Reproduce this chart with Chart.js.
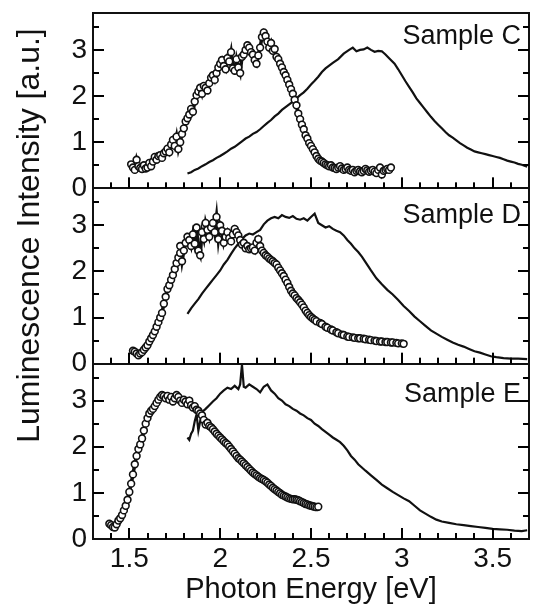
<!DOCTYPE html>
<html><head><meta charset="utf-8">
<script src="https://cdn.jsdelivr.net/npm/chart.js@4.4.1/dist/chart.umd.min.js"></script>
<style>html,body{margin:0;padding:0;background:#fff}#wrap{position:relative;width:536px;height:607px}</style>
</head><body><div id="wrap"><canvas id="c"></canvas></div>
<script>
const xTickValues=[1.5,2,2.5,3,3.5];
const xTickLabels=['1.5','2','2.5','3','3.5'];
const xMinorTicks=[1.4,1.5,1.6,1.7,1.8,1.9,2,2.1,2.2,2.3,2.4,2.5,2.6,2.7,2.8,2.9,3,3.1,3.2,3.3,3.4,3.5,3.6];
const yTickValues=[0,1,2,3];
const yTickLabels=['0','1','2','3'];
const yMinorTicks=[0.5,1,1.5,2,2.5,3,3.5];
const panelNames=['Sample C','Sample D','Sample E'];

const sampleC_circles=[[1.51,0.52],[1.52,0.45],[1.53,0.40],[1.54,0.62],[1.55,0.48],[1.56,0.44],[1.57,0.42],[1.58,0.50],[1.59,0.43],[1.60,0.45],[1.61,0.55],[1.62,0.48],[1.63,0.58],[1.64,0.68],[1.65,0.62],[1.66,0.70],[1.67,0.72],[1.68,0.66],[1.69,0.76],[1.70,0.80],[1.71,0.86],[1.72,0.78],[1.73,0.95],[1.74,1.05],[1.75,0.92],[1.76,1.12],[1.77,0.85],[1.78,1.00],[1.79,1.18],[1.80,1.30],[1.81,1.45],[1.82,1.52],[1.83,1.60],[1.84,1.72],[1.85,1.66],[1.86,1.88],[1.87,2.02],[1.88,2.10],[1.89,2.18],[1.90,2.05],[1.91,2.22],[1.92,2.18],[1.93,2.12],[1.94,2.28],[1.95,2.40],[1.96,2.45],[1.97,2.35],[1.98,2.50],[1.99,2.62],[2.00,2.70],[2.01,2.78],[2.02,2.65],[2.03,2.58],[2.04,2.82],[2.05,2.75],[2.06,2.95],[2.07,2.60],[2.08,2.55],[2.09,2.80],[2.10,2.62],[2.11,2.50],[2.12,2.85],[2.13,2.90],[2.14,3.00],[2.15,3.10],[2.16,3.05],[2.17,2.95],[2.18,2.90],[2.19,2.78],[2.20,2.70],[2.21,2.88],[2.22,3.05],[2.23,3.28],[2.24,3.38],[2.25,3.30],[2.26,3.18],[2.27,3.05],[2.28,3.15],[2.29,2.98],[2.30,3.02],[2.31,2.85],[2.32,2.80],[2.33,2.70],[2.34,2.62],[2.35,2.52],[2.36,2.45],[2.37,2.35],[2.38,2.25],[2.39,2.15],[2.40,2.05],[2.41,1.92],[2.42,1.80],[2.43,1.62],[2.44,1.50],[2.45,1.38],[2.46,1.28],[2.47,1.15],[2.48,1.08],[2.49,0.98],[2.50,0.92],[2.51,0.85],[2.52,0.78],[2.53,0.70],[2.54,0.64],[2.55,0.60],[2.56,0.58],[2.57,0.55],[2.58,0.52],[2.59,0.50],[2.60,0.48],[2.61,0.50],[2.62,0.45],[2.63,0.44],[2.64,0.42],[2.65,0.45],[2.66,0.48],[2.67,0.43],[2.68,0.40],[2.69,0.42],[2.70,0.45],[2.71,0.40],[2.72,0.38],[2.73,0.40],[2.74,0.35],[2.75,0.38],[2.76,0.40],[2.77,0.37],[2.78,0.35],[2.79,0.38],[2.80,0.42],[2.81,0.39],[2.82,0.36],[2.83,0.38],[2.84,0.40],[2.85,0.36],[2.86,0.33],[2.87,0.40],[2.88,0.45],[2.89,0.30],[2.90,0.38],[2.91,0.40],[2.92,0.42],[2.93,0.40],[2.94,0.45]];
const sampleC_trace=[[1.82,0.32],[1.84,0.35],[1.86,0.40],[1.88,0.43],[1.90,0.48],[1.92,0.52],[1.94,0.57],[1.96,0.61],[1.98,0.66],[2.00,0.70],[2.02,0.75],[2.04,0.80],[2.06,0.86],[2.08,0.90],[2.10,0.96],[2.12,1.02],[2.14,1.08],[2.16,1.12],[2.18,1.18],[2.20,1.22],[2.22,1.28],[2.24,1.35],[2.26,1.42],[2.28,1.48],[2.30,1.56],[2.32,1.62],[2.34,1.70],[2.36,1.76],[2.38,1.82],[2.40,1.88],[2.42,1.95],[2.44,2.02],[2.46,2.08],[2.48,2.16],[2.50,2.25],[2.52,2.33],[2.54,2.42],[2.56,2.52],[2.58,2.60],[2.60,2.66],[2.62,2.72],[2.65,2.80],[2.68,2.92],[2.71,3.00],[2.73,3.05],[2.75,2.97],[2.77,3.00],[2.79,3.01],[2.81,3.05],[2.83,3.00],[2.85,2.96],[2.87,2.98],[2.89,2.97],[2.91,2.90],[2.93,2.82],[2.96,2.70],[2.98,2.58],[3.00,2.45],[3.02,2.32],[3.04,2.20],[3.06,2.08],[3.08,1.95],[3.10,1.85],[3.12,1.75],[3.14,1.65],[3.16,1.55],[3.18,1.46],[3.20,1.38],[3.22,1.30],[3.24,1.22],[3.26,1.15],[3.28,1.10],[3.30,1.04],[3.32,0.98],[3.34,0.93],[3.36,0.88],[3.38,0.84],[3.40,0.80],[3.42,0.78],[3.44,0.76],[3.46,0.74],[3.48,0.72],[3.50,0.70],[3.52,0.68],[3.54,0.66],[3.56,0.63],[3.58,0.60],[3.60,0.58],[3.62,0.56],[3.64,0.53],[3.66,0.51],[3.69,0.47]];

const sampleD_circles=[[1.52,0.28],[1.53,0.26],[1.54,0.22],[1.55,0.18],[1.56,0.22],[1.57,0.25],[1.58,0.30],[1.59,0.35],[1.60,0.40],[1.61,0.48],[1.62,0.55],[1.63,0.62],[1.64,0.70],[1.65,0.80],[1.66,0.90],[1.67,1.00],[1.68,1.10],[1.69,1.30],[1.70,1.45],[1.71,1.62],[1.72,1.70],[1.73,1.82],[1.74,1.92],[1.75,2.05],[1.76,2.18],[1.77,2.30],[1.78,2.40],[1.78,2.55],[1.79,2.22],[1.80,2.45],[1.81,2.62],[1.82,2.75],[1.83,2.68],[1.84,2.55],[1.85,2.80],[1.86,2.60],[1.87,2.95],[1.88,2.45],[1.89,2.35],[1.90,2.85],[1.91,2.70],[1.92,3.05],[1.93,2.90],[1.94,2.75],[1.95,2.95],[1.96,3.05],[1.97,2.85],[1.98,3.18],[1.99,2.70],[2.00,3.00],[2.01,2.88],[2.02,2.62],[2.03,2.75],[2.04,2.85],[2.05,2.72],[2.06,2.65],[2.07,2.80],[2.08,2.92],[2.09,2.85],[2.10,2.78],[2.11,2.68],[2.12,2.58],[2.13,2.62],[2.14,2.50],[2.15,2.55],[2.16,2.48],[2.17,2.50],[2.18,2.52],[2.19,2.45],[2.20,2.62],[2.21,2.70],[2.22,2.55],[2.23,2.45],[2.24,2.40],[2.25,2.35],[2.26,2.32],[2.27,2.28],[2.28,2.25],[2.29,2.22],[2.30,2.18],[2.31,2.15],[2.32,2.08],[2.33,2.02],[2.34,1.96],[2.35,1.90],[2.36,1.82],[2.37,1.75],[2.38,1.66],[2.39,1.58],[2.40,1.52],[2.41,1.48],[2.42,1.42],[2.43,1.38],[2.44,1.33],[2.45,1.28],[2.46,1.22],[2.47,1.15],[2.48,1.10],[2.49,1.05],[2.50,1.01],[2.51,0.98],[2.52,0.95],[2.53,0.92],[2.55,0.88],[2.56,0.86],[2.58,0.80],[2.59,0.78],[2.61,0.74],[2.62,0.72],[2.64,0.68],[2.65,0.66],[2.67,0.63],[2.68,0.62],[2.70,0.59],[2.71,0.58],[2.73,0.57],[2.74,0.56],[2.76,0.55],[2.77,0.55],[2.79,0.54],[2.80,0.53],[2.82,0.52],[2.83,0.51],[2.85,0.50],[2.86,0.49],[2.88,0.48],[2.89,0.48],[2.91,0.47],[2.92,0.47],[2.94,0.46],[2.95,0.46],[2.97,0.45],[2.98,0.44],[3.00,0.44],[3.01,0.43]];
const sampleD_trace=[[1.82,1.08],[1.84,1.20],[1.86,1.30],[1.88,1.40],[1.90,1.52],[1.92,1.62],[1.94,1.72],[1.96,1.82],[1.98,1.92],[2.00,2.02],[2.02,2.15],[2.04,2.25],[2.06,2.38],[2.08,2.50],[2.10,2.60],[2.12,2.70],[2.14,2.78],[2.16,2.82],[2.18,2.80],[2.20,2.85],[2.22,2.90],[2.24,3.02],[2.26,3.10],[2.28,3.15],[2.30,3.18],[2.32,3.15],[2.34,3.22],[2.36,3.18],[2.38,3.16],[2.40,3.20],[2.42,3.14],[2.44,3.12],[2.46,3.15],[2.48,3.10],[2.50,3.18],[2.52,3.25],[2.54,3.05],[2.56,3.00],[2.58,2.95],[2.60,2.98],[2.62,2.92],[2.64,2.88],[2.66,2.85],[2.68,2.78],[2.70,2.68],[2.72,2.60],[2.74,2.50],[2.76,2.42],[2.78,2.32],[2.80,2.20],[2.83,2.02],[2.86,1.85],[2.89,1.72],[2.92,1.60],[2.95,1.50],[2.98,1.38],[3.01,1.25],[3.04,1.14],[3.07,1.02],[3.10,0.92],[3.13,0.82],[3.16,0.72],[3.19,0.65],[3.22,0.58],[3.25,0.52],[3.28,0.46],[3.31,0.41],[3.34,0.37],[3.37,0.32],[3.40,0.27],[3.43,0.24],[3.46,0.20],[3.49,0.16],[3.52,0.14],[3.56,0.12],[3.60,0.11],[3.64,0.11],[3.69,0.10]];

const sampleE_circles=[[1.39,0.33],[1.40,0.30],[1.41,0.26],[1.42,0.25],[1.43,0.32],[1.44,0.40],[1.45,0.45],[1.46,0.52],[1.47,0.62],[1.48,0.72],[1.49,0.85],[1.50,1.02],[1.51,1.20],[1.52,1.40],[1.53,1.62],[1.54,1.80],[1.55,1.95],[1.56,2.05],[1.57,2.18],[1.58,2.35],[1.59,2.50],[1.60,2.62],[1.61,2.72],[1.62,2.78],[1.63,2.82],[1.64,2.88],[1.65,2.95],[1.66,3.02],[1.67,3.08],[1.68,3.12],[1.69,3.10],[1.70,3.05],[1.71,3.10],[1.72,3.02],[1.73,3.08],[1.74,2.98],[1.75,3.05],[1.76,3.12],[1.77,3.08],[1.78,3.00],[1.79,2.95],[1.80,3.02],[1.81,2.98],[1.82,2.92],[1.83,3.00],[1.84,2.90],[1.85,2.85],[1.86,2.88],[1.87,2.80],[1.88,2.78],[1.89,2.72],[1.90,2.68],[1.91,2.58],[1.92,2.48],[1.93,2.52],[1.94,2.45],[1.95,2.42],[1.96,2.38],[1.97,2.33],[1.98,2.28],[1.99,2.24],[2.00,2.20],[2.01,2.16],[2.02,2.12],[2.03,2.08],[2.04,2.05],[2.05,2.00],[2.06,1.95],[2.07,1.90],[2.08,1.85],[2.09,1.80],[2.10,1.75],[2.11,1.72],[2.12,1.68],[2.13,1.64],[2.14,1.60],[2.15,1.56],[2.16,1.52],[2.17,1.48],[2.18,1.44],[2.19,1.41],[2.20,1.38],[2.21,1.35],[2.22,1.32],[2.23,1.30],[2.24,1.28],[2.25,1.25],[2.26,1.22],[2.27,1.18],[2.28,1.15],[2.29,1.11],[2.30,1.08],[2.31,1.05],[2.32,1.02],[2.33,0.99],[2.34,0.96],[2.35,0.94],[2.36,0.92],[2.37,0.90],[2.38,0.88],[2.39,0.87],[2.40,0.86],[2.41,0.86],[2.42,0.85],[2.43,0.84],[2.44,0.82],[2.45,0.80],[2.46,0.78],[2.47,0.76],[2.48,0.75],[2.49,0.73],[2.50,0.72],[2.51,0.71],[2.52,0.70],[2.53,0.69],[2.54,0.70]];
const sampleE_trace=[[1.82,2.20],[1.83,2.15],[1.84,2.28],[1.85,2.35],[1.86,2.55],[1.87,2.70],[1.88,2.35],[1.89,2.55],[1.90,2.75],[1.92,2.82],[1.94,2.90],[1.96,2.98],[1.98,3.05],[2.00,3.15],[2.02,3.22],[2.04,3.28],[2.06,3.25],[2.08,3.32],[2.10,3.25],[2.11,3.35],[2.12,3.78],[2.13,3.30],[2.14,3.28],[2.16,3.35],[2.18,3.30],[2.20,3.25],[2.22,3.18],[2.24,3.30],[2.26,3.35],[2.28,3.22],[2.30,3.15],[2.32,3.05],[2.34,3.00],[2.36,2.92],[2.38,2.88],[2.40,2.82],[2.42,2.78],[2.44,2.72],[2.46,2.68],[2.48,2.62],[2.50,2.58],[2.52,2.50],[2.54,2.45],[2.56,2.38],[2.58,2.32],[2.60,2.26],[2.62,2.20],[2.64,2.15],[2.66,2.10],[2.68,2.02],[2.70,1.92],[2.72,1.80],[2.74,1.72],[2.76,1.62],[2.78,1.55],[2.80,1.48],[2.83,1.38],[2.86,1.28],[2.89,1.18],[2.92,1.10],[2.95,1.02],[2.98,0.95],[3.01,0.88],[3.04,0.82],[3.07,0.72],[3.10,0.62],[3.13,0.55],[3.16,0.48],[3.19,0.42],[3.22,0.38],[3.26,0.35],[3.30,0.32],[3.34,0.30],[3.38,0.28],[3.42,0.26],[3.46,0.24],[3.50,0.22],[3.54,0.21],[3.58,0.20],[3.62,0.18],[3.66,0.17],[3.69,0.19]];

const INK='#111';
const FONT="'Liberation Sans', Arial, Helvetica, sans-serif";
const CLEAR='rgba(0,0,0,0)';
const FRAME=2;

function fixSize(w,h){return s=>{if(w!=null)s.width=w;if(h!=null)s.height=h;s.paddingTop=0;s.paddingBottom=0;s.paddingLeft=0;s.paddingRight=0;};}
function setTicks(vals){return s=>{s.ticks=vals.map(v=>({value:v}));};}

function yAxis(weight,sep){
  return {type:'linear',position:'left',stack:'panels',stackWeight:1,weight:weight,min:0,max:3.8,
    afterBuildTicks:setTicks(yTickValues),
    afterFit:fixSize(93,null),
    ticks:{autoSkip:false,padding:6,color:INK,font:{family:FONT,size:28,lineHeight:1},callback:(v,i)=>yTickLabels[i]},
    grid:{drawTicks:false,drawOnChartArea:true,lineWidth:FRAME,color:c=>(sep&&c.tick&&c.tick.value===0)?INK:CLEAR},
    border:{display:true,color:INK,width:FRAME}};
}
function pts(a){return a.map(p=>({x:p[0],y:p[1]}));}
function circles(a,yid){return {data:pts(a),xAxisID:'x',yAxisID:yid,showLine:true,borderColor:INK,borderWidth:3.5,pointRadius:3.4,pointBorderWidth:1.6,pointBackgroundColor:'#fff',pointBorderColor:INK,tension:0};}
function trace(a,yid){return {data:pts(a),xAxisID:'x',yAxisID:yid,showLine:true,borderColor:INK,borderWidth:2.2,pointRadius:0,tension:0};}

const labelAnchor=[3.12,3.04,2.98];
const frameTicks={id:'frameTicks',afterDraw(chart){
  const ctx=chart.ctx,a=chart.chartArea,xs=chart.scales.x;
  ctx.save();
  ctx.fillStyle='#000';
  ['yC','yD','yE'].forEach(id=>{
    const ys=chart.scales[id];const base=ys.getPixelForValue(0);
    xMinorTicks.forEach(v=>{const px=Math.round(xs.getPixelForValue(v));const len=xTickValues.includes(v)?11:6;ctx.fillRect(px-1,base-len,2,len);});
    yMinorTicks.forEach(v=>{const py=Math.round(ys.getPixelForValue(v));const len=yTickValues.includes(v)?11:6;ctx.fillRect(a.left,py-1,len,2);ctx.fillRect(a.right-len,py-1,len,2);});
  });
  ctx.restore();
}};
const decor={id:'decor',afterDraw(chart){
  const ctx=chart.ctx,a=chart.chartArea;
  ctx.save();
  ctx.fillStyle=INK;
  ['yC','yD','yE'].forEach((id,k)=>{
    const ys=chart.scales[id];
    ctx.font='27px '+FONT;ctx.textAlign='right';ctx.textBaseline='alphabetic';
    ctx.fillText(panelNames[k],a.right-8,ys.getPixelForValue(labelAnchor[k]));
  });
  ctx.translate(30.5,a.top+0.423*(a.bottom-a.top));ctx.rotate(-Math.PI/2);
  ctx.font='32px '+FONT;ctx.textAlign='center';ctx.textBaseline='middle';
  ctx.fillText('Luminescence Intensity [a.u.]',0,0);
  ctx.restore();
}};

new Chart(document.getElementById('c'),{
  type:'line',
  data:{datasets:[
    circles(sampleC_circles,'yC'),trace(sampleC_trace,'yC'),
    circles(sampleD_circles,'yD'),trace(sampleD_trace,'yD'),
    circles(sampleE_circles,'yE'),trace(sampleE_trace,'yE')]},
  options:{responsive:true,maintainAspectRatio:false,animation:false,
    layout:{padding:0,autoPadding:false},
    plugins:{legend:{display:false},tooltip:{enabled:false}},
    scales:{
      x:{type:'linear',position:'bottom',min:1.3,max:3.7,
        afterBuildTicks:setTicks(xTickValues),
        afterFit:fixSize(null,68),
        ticks:{autoSkip:false,maxRotation:0,padding:3,color:INK,font:{family:FONT,size:28,lineHeight:1.2},callback:(v,i)=>xTickLabels[i]},
        grid:{drawTicks:false,drawOnChartArea:false,color:CLEAR},
        border:{display:true,color:INK,width:FRAME},
        title:{display:true,text:'Photon Energy [eV]',color:INK,font:{family:FONT,size:29,lineHeight:1.2},padding:{top:0,bottom:0}}},
      xTop:{type:'linear',position:'top',min:1.3,max:3.7,afterFit:fixSize(null,13),
        ticks:{display:false},grid:{drawTicks:false,drawOnChartArea:false,color:CLEAR},border:{display:true,color:INK,width:FRAME}},
      yC:yAxis(3,true),yD:yAxis(2,true),yE:yAxis(1,false),
      yR:{type:'linear',position:'right',min:0,max:1,afterFit:fixSize(7,null),
        ticks:{display:false},grid:{drawTicks:false,drawOnChartArea:false,color:CLEAR},border:{display:true,color:INK,width:FRAME}}
    }},
  plugins:[frameTicks,decor]
});
</script></body></html>
